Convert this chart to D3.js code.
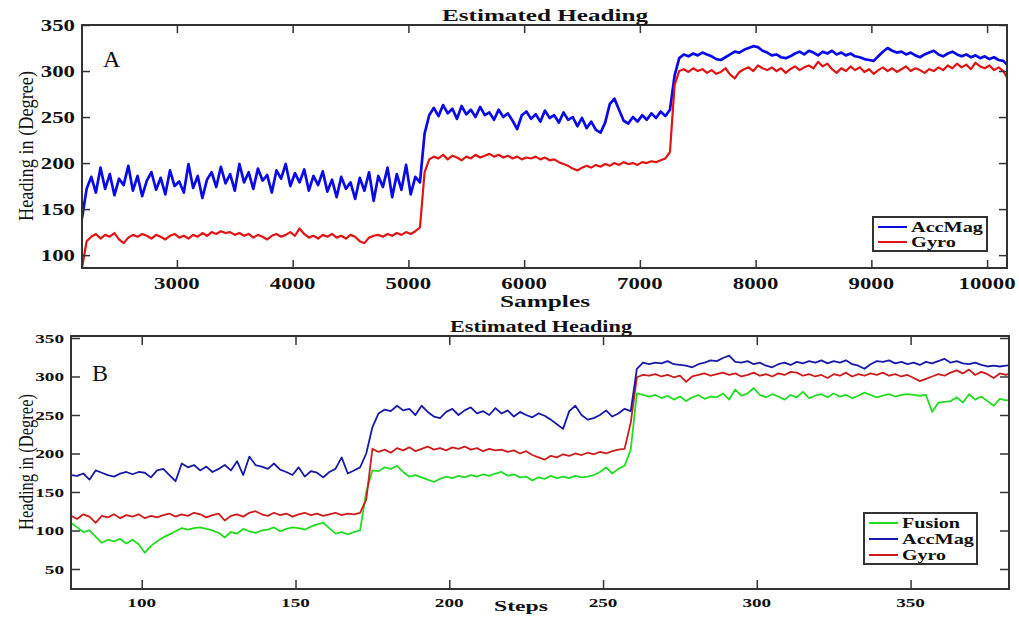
<!DOCTYPE html>
<html>
<head>
<meta charset="utf-8">
<script src="https://cdn.jsdelivr.net/npm/d3@7"></script>
<style>
  body { margin: 0; background: #fff; }
  svg { display: block; }
  text { font-family: "Liberation Serif", "Times New Roman", serif; fill: #111; }
  .tick-label { font-weight: bold; }
  .title { font-weight: bold; }
  .xlabel { font-weight: bold; }
  .leg { font-weight: bold; }
</style>
</head>
<body>
<svg id="chart" width="1019" height="617"></svg>
<script>
// ---- panel A data (samples, every 40 samples starting at 2180) ----
const samplesStart = 2180, samplesStep = 40;
const accMagA = [
  140, 172,
  185, 168, 195, 172, 188, 165, 183, 176, 197, 170,
  186, 164, 181, 190, 171, 184, 166, 192, 175, 180,
  168, 199, 173, 186, 162, 182, 190, 174, 196, 178,
  188, 170, 199, 179, 190, 172, 194, 181, 187, 168,
  192, 183, 199, 175, 189, 179, 193, 170, 186, 176,
  191, 169, 182, 163, 185, 172, 179, 161, 184, 170,
  190, 159, 186, 174, 195, 163, 188, 171, 198, 166,
  185, 179, 232, 252,
  260, 251, 263, 254, 259, 248, 262, 253, 258, 250,
  261, 252, 255, 247, 258, 250, 254, 246, 237, 252,
  256, 248, 253, 245, 257, 249, 252, 244, 255, 247,
  250, 240, 249, 238, 245, 236, 233, 244,
  264, 270, 258, 246,
  243, 250, 245, 252, 247, 254, 249, 256, 251, 258,
  295, 314,
  318, 316, 319, 317, 320, 318, 316, 313, 312, 315,
  318, 321, 320, 323, 325, 327, 326, 322, 320, 317,
  318, 315, 314, 316, 319, 321, 318, 322, 320, 317,
  321, 319, 322, 318, 320, 317, 319, 316, 315, 313,
  312, 311, 316, 321, 325, 322, 320, 321, 318, 320,
  317, 315, 318, 320, 322, 318, 316, 319, 321, 318,
  316, 318, 315, 317, 314, 316, 313, 315, 312, 311,
  306
];
const gyroA = [
  86, 115,
  120, 123, 118, 122, 120, 124, 117, 113, 119, 122,
  120, 123, 121, 118, 122, 120, 117, 121, 123, 119,
  121, 118, 122, 120, 124, 121, 125, 123, 126, 124,
  125, 122, 124, 121, 123, 119, 122, 120, 117, 121,
  123, 120, 122, 125, 121, 129, 123, 119, 121, 118,
  122, 120, 123, 119, 121, 118, 122, 120, 115, 113,
  119, 121, 122, 120, 123, 121, 124, 122, 125, 123,
  126, 130, 190, 204,
  207, 205, 209, 204, 208, 206, 203, 207, 205, 209,
  206, 208, 210, 207, 209, 206, 208, 205, 207, 204,
  206, 205, 207, 204, 206, 203, 204, 201, 199, 197,
  194, 192, 195, 197, 195, 198, 196, 199, 197, 200,
  198, 201, 199, 200, 198, 201, 200, 202, 201, 203, 205, 212,
  285, 300,
  302, 299, 303, 300, 302, 298, 301, 297, 299, 303,
  296, 292, 299, 302, 304, 300, 306, 303, 301, 304,
  300, 303, 298, 302, 305, 301, 304, 306, 303, 310,
  305, 308, 302, 298, 303, 300, 305, 301, 304, 299,
  302, 297, 301, 304, 300, 303, 299, 302, 305, 300,
  303, 301, 298, 302, 300, 304, 301, 306, 303, 308,
  304, 307, 302, 309, 305, 303, 306, 301, 304, 300,
  291
];
const xTicksA = [3000, 4000, 5000, 6000, 7000, 8000, 9000, 10000];
const yTicksA = [100, 150, 200, 250, 300, 350];

// ---- panel B data (steps, every 2 steps starting at 77) ----
const stepsStart = 77, stepsStep = 2;
const fusionB = [
  110, 104, 98, 100, 92, 84, 88, 86, 89, 83,
  88, 82, 71, 80, 86, 91, 95, 99, 103, 101,
  103, 104, 102, 100, 97, 91, 98, 96, 102, 99,
  97, 100, 101, 104, 99, 102, 104, 103, 101, 105,
  108, 110, 103, 96, 98, 95, 98, 100, 150, 178,
  177, 182, 180, 184, 176, 170, 172, 169, 166, 163,
  167, 170, 168, 171, 169, 172, 170, 173, 171, 174,
  176, 171, 173, 169, 170, 165, 169, 167, 171, 168,
  170, 168, 171, 169, 170, 172, 176, 182, 174, 180,
  184, 205, 278, 276, 274, 276, 272, 275, 270, 274,
  268, 273, 276, 271, 274, 273, 278, 270, 283, 275,
  278, 285, 276, 273, 277, 274, 270, 276, 273, 280,
  272, 275, 277, 273, 278, 274, 276, 272, 275, 279,
  276, 273, 275, 277, 274, 276, 277, 276, 275, 276,
  254, 266, 267, 268, 273, 266, 277, 270, 274, 268,
  262, 271, 269, 270
];
const accMagB = [
  172, 171, 174, 166, 178, 175, 172, 170, 174, 176,
  173, 176, 175, 169, 178, 180, 172, 164, 187, 182,
  185, 178, 183, 176, 180, 185, 178, 190, 172, 196,
  185, 183, 180, 187, 179, 176, 172, 182, 170, 177,
  175, 169, 176, 180, 195, 174, 178, 182, 200, 234,
  252, 257, 255, 262, 256, 258, 250, 262, 254, 248,
  246, 254, 258, 250, 256, 260, 252, 255, 250, 259,
  252, 256, 248, 254, 250, 247, 252, 249, 244, 238,
  232, 255, 262, 250, 244, 246, 250, 256, 248, 252,
  258, 255, 310, 318, 316, 318, 317, 320, 316, 315,
  314, 312, 316, 318, 321, 320, 324, 327, 319, 318,
  320, 316, 318, 314, 312, 316, 318, 315, 319, 317,
  320, 318, 321, 317, 320, 318, 321, 316, 314, 310,
  316, 320, 319, 321, 317, 319, 316, 318, 315, 319,
  317, 320, 323, 318, 320, 317, 316, 318, 315, 313,
  314, 313, 314, 315
];
const gyroB = [
  119, 115, 121, 118, 110, 119, 117, 121, 116, 120,
  118, 121, 116, 119, 117, 120, 122, 118, 121, 119,
  123, 121, 117, 120, 122, 113, 119, 121, 118, 123,
  125, 121, 119, 123, 120, 122, 118, 121, 123, 120,
  122, 119, 121, 123, 120, 122, 121, 123, 140, 206,
  202, 205, 201, 207, 204, 208, 203, 206, 209, 205,
  207, 204, 208, 206, 209, 205, 207, 203, 206, 204,
  205, 202, 204, 200, 203, 198, 195, 192, 197, 195,
  199, 197, 200, 198, 201, 199, 202, 200, 203, 205,
  206, 240, 299, 302, 301, 303, 300, 302, 299, 301,
  293, 300, 302, 304, 301, 303, 305, 302, 304, 300,
  302, 305, 301, 303, 300, 304, 302, 306, 305, 301,
  303, 300, 302, 298, 303, 301, 305, 300, 303, 301,
  304, 302, 305, 301, 303, 300, 302, 298, 294, 297,
  300, 303, 301, 305, 308, 304, 309, 302, 306, 303,
  298, 304, 302, 305
];
const xTicksB = [100, 150, 200, 250, 300, 350];
const yTicksB = [50, 100, 150, 200, 250, 300, 350];

const svg = d3.select("#chart");

function drawPanel(cfg) {
  const g = svg.append("g");
  const x = d3.scaleLinear().domain(cfg.xDomain).range([cfg.left, cfg.right]);
  const y = d3.scaleLinear().domain(cfg.yDomain).range([cfg.bottom, cfg.top]);

  g.append("defs").append("clipPath").attr("id", cfg.id + "clip")
    .append("rect")
    .attr("x", cfg.left).attr("y", cfg.top)
    .attr("width", cfg.right - cfg.left).attr("height", cfg.bottom - cfg.top);

  // series
  const plot = g.append("g").attr("clip-path", `url(#${cfg.id}clip)`);
  cfg.series.forEach(s => {
    const line = d3.line()
      .x((d, i) => x(cfg.start + i * cfg.step))
      .y(d => y(d));
    plot.append("path")
      .datum(s.values)
      .attr("fill", "none")
      .attr("stroke", s.color)
      .attr("stroke-width", s.width)
      .attr("stroke-linejoin", "round")
      .attr("d", line);
  });

  // axes, MATLAB style: ticks inside, on all four sides
  const tl = cfg.tickLen;
  const ax = (a) => a.tickSize(-tl).tickSizeOuter(0).tickPadding(0);
  g.append("g").attr("transform", `translate(0,${cfg.bottom})`)
    .call(ax(d3.axisBottom(x).tickValues(cfg.xTicks)).tickFormat(""));
  g.append("g").attr("transform", `translate(0,${cfg.top})`)
    .call(ax(d3.axisTop(x).tickValues(cfg.xTicks)).tickFormat(""));
  g.append("g").attr("transform", `translate(${cfg.left},0)`)
    .call(ax(d3.axisLeft(y).tickValues(cfg.yTicks)).tickFormat(""));
  g.append("g").attr("transform", `translate(${cfg.right},0)`)
    .call(ax(d3.axisRight(y).tickValues(cfg.yTicks)).tickFormat(""));
  g.selectAll(".domain").remove();
  g.selectAll(".tick line").attr("stroke", "#333").attr("stroke-width", 1.5);

  g.append("rect")
    .attr("x", cfg.left).attr("y", cfg.top)
    .attr("width", cfg.right - cfg.left).attr("height", cfg.bottom - cfg.top)
    .attr("fill", "none").attr("stroke", "#333").attr("stroke-width", 2);

  // tick labels
  g.selectAll(".xt").data(cfg.xTicks).enter().append("text")
    .attr("class", "tick-label")
    .attr("x", d => x(d)).attr("y", cfg.xLabelY)
    .attr("text-anchor", "middle")
    .attr("font-size", cfg.tickFont)
    .attr("textLength", d => String(d).length * cfg.digitW)
    .attr("lengthAdjust", "spacingAndGlyphs")
    .text(d => d);
  g.selectAll(".yt").data(cfg.yTicks).enter().append("text")
    .attr("class", "tick-label")
    .attr("x", cfg.left - 7).attr("y", d => y(d))
    .attr("dy", "0.36em")
    .attr("text-anchor", "end")
    .attr("font-size", cfg.tickFont)
    .attr("textLength", d => String(d).length * cfg.digitW)
    .attr("lengthAdjust", "spacingAndGlyphs")
    .text(d => d);

  // title
  g.append("text").attr("class", "title")
    .attr("x", cfg.titleX).attr("y", cfg.titleY)
    .attr("text-anchor", "middle").attr("font-size", 16)
    .attr("textLength", cfg.titleW).attr("lengthAdjust", "spacingAndGlyphs")
    .text("Estimated Heading");

  // x label
  g.append("text").attr("class", "xlabel")
    .attr("x", cfg.xTitleX).attr("y", cfg.xTitleY)
    .attr("text-anchor", "middle").attr("font-size", cfg.xTitleSize)
    .attr("textLength", cfg.xTitleW).attr("lengthAdjust", "spacingAndGlyphs")
    .text(cfg.xTitle);

  // y label
  g.append("text")
    .attr("transform", `translate(${33},${cfg.yTitleY}) rotate(-90)`)
    .attr("text-anchor", "middle").attr("font-size", 20)
    .attr("textLength", cfg.yTitleW).attr("lengthAdjust", "spacingAndGlyphs")
    .text("Heading in (Degree)");

  // panel letter
  g.append("text")
    .attr("x", cfg.left + 21).attr("y", cfg.letterY)
    .attr("font-size", 24)
    .text(cfg.letter);

  // legend
  const lg = cfg.legend;
  g.append("rect")
    .attr("x", lg.x).attr("y", lg.y).attr("width", lg.w).attr("height", lg.h)
    .attr("fill", "#fff").attr("stroke", "#333").attr("stroke-width", 2);
  lg.items.forEach((it, i) => {
    const yy = lg.y + lg.first + i * lg.gap;
    g.append("line")
      .attr("x1", lg.x + 5).attr("x2", lg.x + 34)
      .attr("y1", yy).attr("y2", yy)
      .attr("stroke", it.color).attr("stroke-width", 2);
    g.append("text").attr("class", "leg")
      .attr("x", lg.x + 38).attr("y", yy).attr("dy", "0.33em")
      .attr("font-size", lg.font)
      .attr("textLength", it.w).attr("lengthAdjust", "spacingAndGlyphs")
      .text(it.name);
  });
}

drawPanel({
  id: "a", letter: "A", letterY: 67,
  xDomain: [2180, 10172], yDomain: [86, 350],
  left: 82, right: 1007, top: 25, bottom: 268,
  start: samplesStart, step: samplesStep,
  xTicks: xTicksA, yTicks: yTicksA, tickLen: 8,
  tickFont: 16, digitW: 11.4, xLabelY: 289,
  titleX: 545, titleY: 21, titleW: 206,
  xTitle: "Samples", xTitleX: 545, xTitleY: 307, xTitleSize: 17, xTitleW: 90,
  yTitleY: 146, yTitleW: 150,
  series: [
    { values: accMagA, color: "#0a0ae6", width: 2.7 },
    { values: gyroA, color: "#e01414", width: 2.2 }
  ],
  legend: {
    x: 873, y: 217, w: 114, h: 34, first: 10, gap: 15, font: 15,
    items: [
      { name: "AccMag", color: "#0a0ae6", w: 72 },
      { name: "Gyro", color: "#e01414", w: 45 }
    ]
  }
});

drawPanel({
  id: "b", letter: "B", letterY: 381,
  xDomain: [77, 382], yDomain: [24, 352.6],
  left: 71, right: 1009, top: 336, bottom: 589,
  start: stepsStart, step: stepsStep,
  xTicks: xTicksB, yTicks: yTicksB, tickLen: 9,
  tickFont: 13, digitW: 9.6, xLabelY: 607,
  titleX: 541, titleY: 332, titleW: 182,
  xTitle: "Steps", xTitleX: 521, xTitleY: 611, xTitleSize: 15, xTitleW: 54,
  yTitleY: 462, yTitleW: 136,
  series: [
    { values: fusionB, color: "#22dd22", width: 1.8 },
    { values: gyroB, color: "#cc1c1c", width: 1.8 },
    { values: accMagB, color: "#1a1aa8", width: 1.8 }
  ],
  legend: {
    x: 864, y: 513, w: 113, h: 51, first: 10, gap: 16, font: 14,
    items: [
      { name: "Fusion", color: "#22dd22", w: 58 },
      { name: "AccMag", color: "#1a1aa8", w: 72 },
      { name: "Gyro", color: "#cc1c1c", w: 44 }
    ]
  }
});
</script>
</body>
</html>
